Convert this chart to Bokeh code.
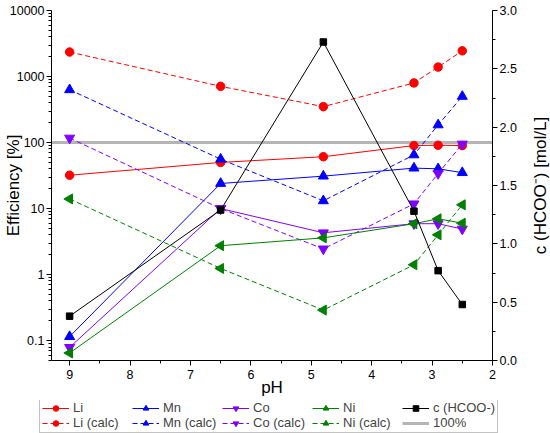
import math
from bokeh.plotting import figure
from bokeh.layouts import column, row
from bokeh.models import (Range1d, LinearAxis, LinearScale, FixedTicker,
                          SingleIntervalTicker, Legend, LegendItem, Title,
                          PrintfTickFormatter)
from bokeh.embed import file_html
from bokeh.resources import INLINE

# ---------------- data ----------------
PH = [9.0, 6.5, 4.8, 3.3, 2.9, 2.5]
LI = [32, 50, 61, 90, 91, 90]
LI_CALC = [2350, 710, 350, 800, 1390, 2450]
MN = [0.115, 24, 31, 41, 40, 35]
MN_CALC = [630, 56, 13.1, 65, 185, 500]
CO = [0.079, 10, 4.3, 5.9, 5.9, 4.9]
CO_CALC = [117, 10, 2.45, 11.8, 34, 95]
NI = [0.065, 2.74, 3.6, 5.9, 7.0, 6.0]
NI_CALC = [14, 1.24, 0.29, 1.41, 4.0, 11.4]
HCOO = [0.38, 1.29, 2.73, 1.28, 0.77, 0.48]
REF_LEVEL = 100

PH_RANGE = (9.3, 2.0)
EFF_RANGE = (0.05, 10000)
CONC_RANGE = (0.0, 3.0)
EFF_TICKS = [0.1, 1, 10, 100, 1000, 10000]
EFF_TICK_LABELS = ["0.1", "1", "10", "100", "1000", "10000"]

FONT = "Liberation Sans"

# layout (pixels)
W_MAIN, W_RTITLE, H_MAIN, H_LEG = 519, 31, 400, 33
B_LEFT, B_RIGHT, B_TOP, B_BOTTOM = 51, 25, 10, 40

p = figure(width=W_MAIN, height=H_MAIN, output_backend="svg",
           toolbar_location=None,
           x_range=Range1d(*PH_RANGE), y_range=Range1d(*EFF_RANGE),
           y_axis_type="log",
           min_border_left=B_LEFT, min_border_right=B_RIGHT,
           min_border_top=B_TOP, min_border_bottom=B_BOTTOM)
p.outline_line_color = None
p.grid.visible = False
p.background_fill_color = "white"
p.border_fill_color = "white"
p.extra_y_ranges = {"conc": Range1d(*CONC_RANGE)}
p.extra_y_scales = {"conc": LinearScale()}


def style_axis(ax):
    ax.axis_line_color = "black"
    ax.axis_line_width = 1
    ax.major_tick_in = 0
    ax.major_tick_out = 5
    ax.minor_tick_in = 0
    ax.minor_tick_out = 3
    ax.major_tick_line_color = "black"
    ax.minor_tick_line_color = "black"
    ax.major_label_text_font = FONT
    ax.major_label_text_font_size = "12.5px"
    ax.major_label_text_color = "black"
    ax.major_label_standoff = 2
    ax.axis_label_text_font = FONT
    ax.axis_label_text_font_size = "17px"
    ax.axis_label_text_font_style = "normal"
    ax.axis_label_text_color = "black"
    ax.axis_label_standoff = 0


# left (log) axis
yax = p.yaxis[0]
style_axis(yax)
minor = [m * 10.0 ** e for e in range(-2, 4) for m in range(2, 10)]
yax.ticker = FixedTicker(ticks=EFF_TICKS, minor_ticks=minor)
yax.major_label_overrides = dict(zip(EFF_TICKS, EFF_TICK_LABELS))
yax.axis_label = "Efficiency [%]"
yax.axis_label_standoff = -16

# bottom axis
xax = p.xaxis[0]
style_axis(xax)
xax.ticker = SingleIntervalTicker(interval=1, num_minor_ticks=2)
xax.axis_label = "pH"
xax.major_label_standoff = 4
xax.axis_label_standoff = -4

# right axis
rax = LinearAxis(y_range_name="conc", axis_label=None,
                 ticker=SingleIntervalTicker(interval=0.5, num_minor_ticks=2),
                 formatter=PrintfTickFormatter(format="%.1f"))
style_axis(rax)
p.add_layout(rax, "right")

# 100 % reference line
ref_style = dict(line_color="#b4b4b4", line_width=3)
p.line(x=list(PH_RANGE), y=[REF_LEVEL, REF_LEVEL], **ref_style)

series = [
    ("Li", LI, LI_CALC, "#ff0000", "circle", 0.0, 8.5),
    ("Mn", MN, MN_CALC, "#0000ff", "triangle", 0.0, 10),
    ("Co", CO, CO_CALC, "#8000ff", "inverted_triangle", 0.0, 10),
    ("Ni", NI, NI_CALC, "#008000", "triangle", math.pi / 2, 10),
]
for name, meas, calc, color, marker, ang, size in series:
    p.line(PH, meas, line_color=color, line_width=1)
    p.scatter(PH, meas, marker=marker, size=size, angle=ang,
              fill_color=color, line_color=color)
    p.line(PH, calc, line_color=color, line_width=1, line_dash="5 3")
    p.scatter(PH, calc, marker=marker, size=size, angle=ang,
              fill_color=color, line_color=color)

p.line(PH, HCOO, line_color="black", line_width=1, y_range_name="conc")
p.scatter(PH, HCOO, marker="square", size=6.5, fill_color="black",
          line_color="black", y_range_name="conc")

# ---------------- right axis title (reads upward) ----------------
r = figure(width=W_RTITLE, height=H_MAIN, output_backend="svg",
           toolbar_location=None, x_axis_location=None, y_axis_location=None,
           min_border_left=W_RTITLE - 1, min_border_right=0,
           min_border_top=B_TOP, min_border_bottom=B_BOTTOM)
r.outline_line_color = None
r.grid.visible = False
r.add_layout(Title(text="c (HCOO\u207b) [mol/L]", align="center", standoff=0,
                   offset=0, text_font=FONT, text_font_size="17px",
                   text_font_style="normal", text_color="black"), "left")

# ---------------- legend strip ----------------
q = figure(width=W_MAIN + W_RTITLE, height=H_LEG, output_backend="svg",
           toolbar_location=None,
           x_range=Range1d(0, 1), y_range=Range1d(0, 1),
           x_axis_location=None, y_axis_location=None,
           min_border_left=0, min_border_right=0, min_border_top=0,
           min_border_bottom=0)
q.outline_line_color = None
q.grid.visible = False
try:
    q.frame_align = False
except Exception:
    pass

# legend proxies (their data lie outside this strip's ranges, so only the
# legend glyphs are shown)
items = []
for name, meas, calc, color, marker, ang, size in series:
    a = q.line(PH, meas, line_color=color, line_width=1)
    b = q.scatter(PH, meas, marker=marker, fill_color=color, line_color=color)
    c = q.line(PH, calc, line_color=color, line_width=1, line_dash="5 3")
    d = q.scatter(PH, calc, marker=marker, fill_color=color, line_color=color)
    items.append(LegendItem(label=name, renderers=[a, b]))
    items.append(LegendItem(label=name + " (calc)", renderers=[c, d]))
a = q.line(PH, HCOO, line_color="black", line_width=1)
b = q.scatter(PH, HCOO, marker="square", fill_color="black", line_color="black")
items.append(LegendItem(label="c (HCOO-)", renderers=[a, b]))
items.append(LegendItem(label="100%", renderers=[
    q.line(list(PH_RANGE), [REF_LEVEL, REF_LEVEL], **ref_style)]))

legend = Legend(items=items, orientation="vertical", nrows=2,
                location=(39, 0),
                label_text_font=FONT, label_text_font_size="13px",
                glyph_width=27, glyph_height=14, label_height=14,
                label_width=59, label_standoff=4, spacing=0, padding=2,
                margin=0,
                border_line_color="#888888", border_line_width=1,
                background_fill_color="white")
q.add_layout(legend, "center")

layout = column(row(p, r, spacing=0), q, spacing=0)
open("out.html", "w").write(file_html(layout, INLINE))
